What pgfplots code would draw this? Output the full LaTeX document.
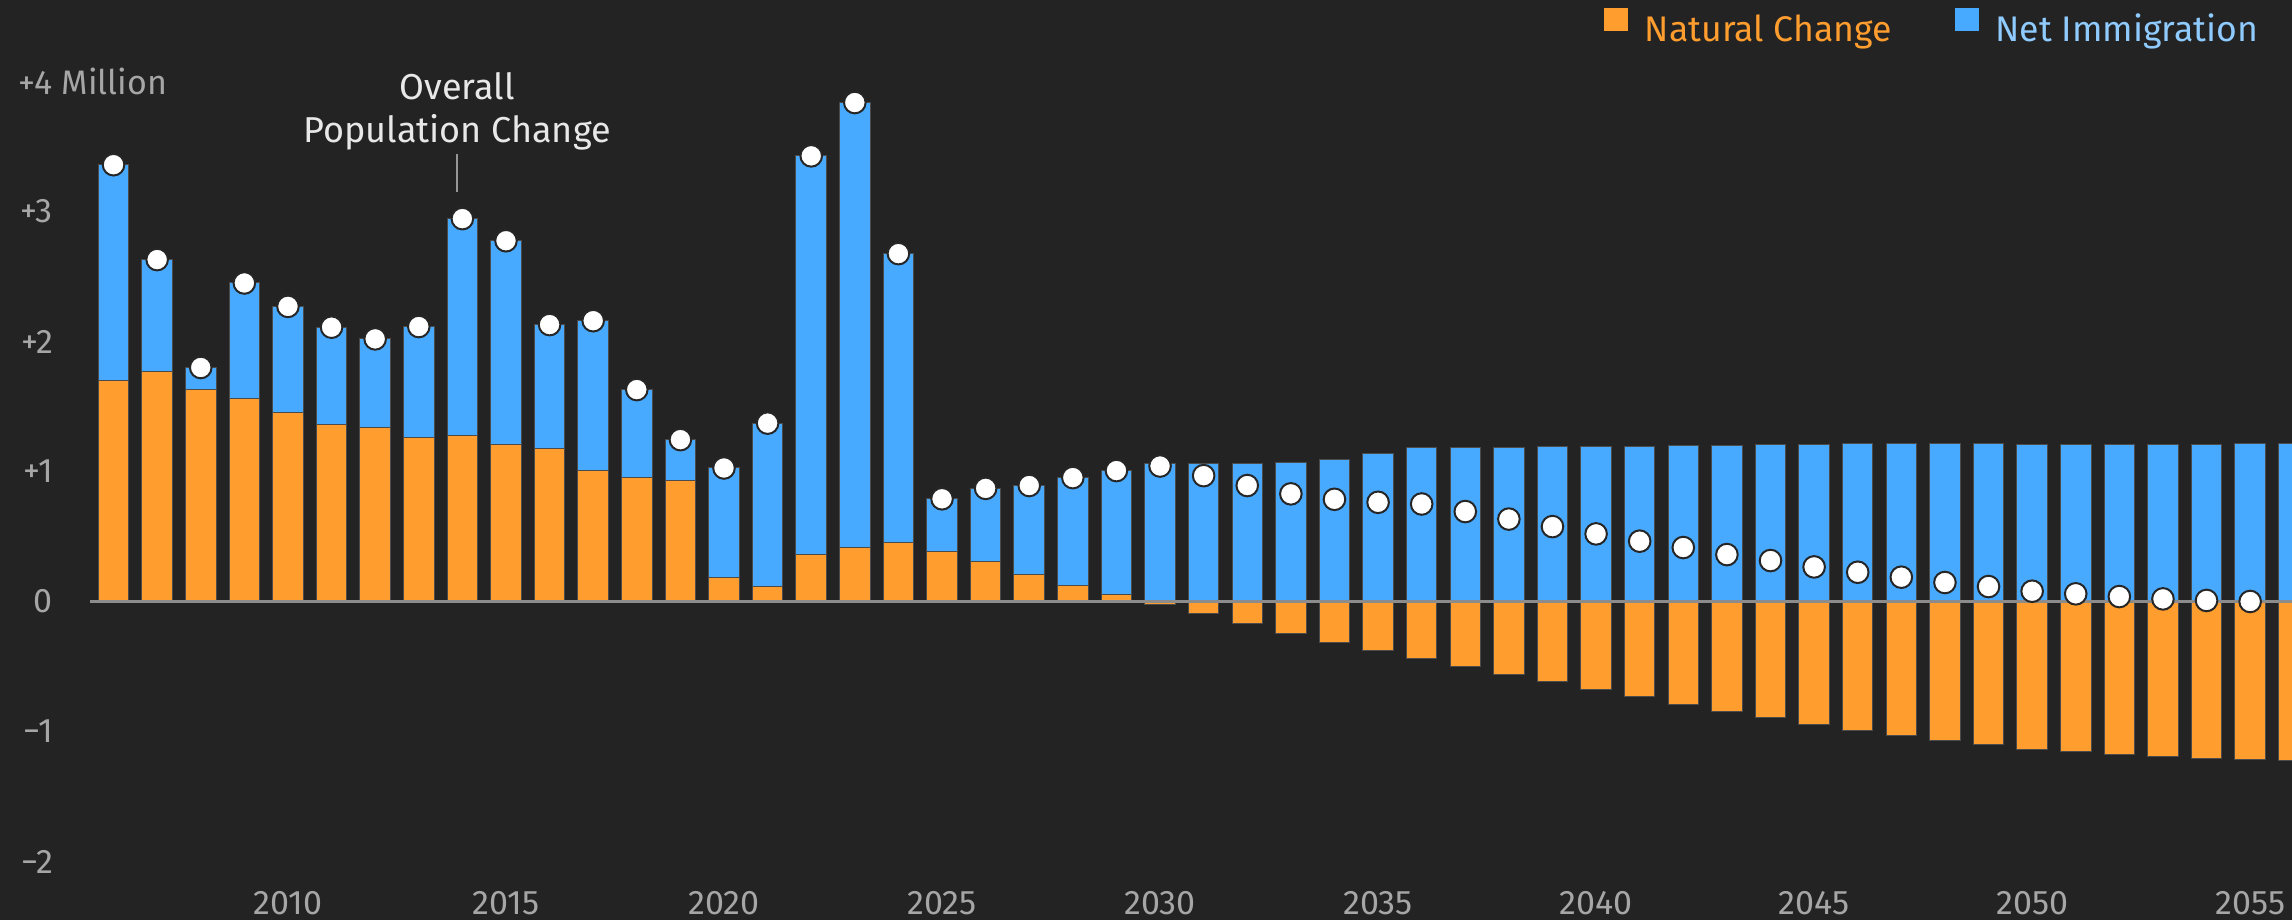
\documentclass[border=0pt]{standalone}
\usepackage{fontspec}
\setmainfont{Fira Sans}
\newfontfamily\condfont{Fira Sans}
\usepackage{pgfplots}
\usepackage{pgfplotstable}
\pgfplotsset{compat=1.18}
\definecolor{bg}{RGB}{35,35,35}
\definecolor{natc}{RGB}{255,157,46}
\definecolor{immc}{RGB}{72,170,255}
\definecolor{immtxt}{RGB}{143,203,255}
\definecolor{ticktxt}{RGB}{166,166,166}
\definecolor{zeroc}{RGB}{140,140,140}
\definecolor{edgec}{RGB}{75,75,75}
\definecolor{annotc}{RGB}{232,232,232}
\definecolor{annotline}{RGB}{150,150,150}

% year, natural change, top of the blue (net immigration) bar, overall change
\pgfplotstableread{
year nat blue total
2006 1.70 3.36 3.36
2007 1.77 2.63 2.63
2008 1.63 1.80 1.80
2009 1.56 2.45 2.45
2010 1.45 2.27 2.27
2011 1.36 2.11 2.11
2012 1.34 2.02 2.02
2013 1.265 2.115 2.115
2014 1.28 2.945 2.945
2015 1.205 2.775 2.775
2016 1.175 2.13 2.13
2017 1.01 2.16 2.16
2018 0.955 1.63 1.63
2019 0.93 1.245 1.245
2020 0.185 1.027 1.027
2021 0.117 1.372 1.372
2022 0.365 3.428 3.428
2023 0.412 3.838 3.838
2024 0.456 2.676 2.676
2025 0.387 0.79 0.79
2026 0.305 0.87 0.87
2027 0.209 0.892 0.892
2028 0.126 0.953 0.953
2029 0.052 1.007 1.007
2030 -0.02 1.064 1.042
2031 -0.095 1.064 0.968
2032 -0.172 1.059 0.892
2033 -0.243 1.069 0.828
2034 -0.313 1.096 0.786
2035 -0.374 1.137 0.763
2036 -0.438 1.186 0.75
2037 -0.50 1.187 0.692
2038 -0.561 1.187 0.634
2039 -0.617 1.189 0.576
2040 -0.676 1.191 0.52
2041 -0.733 1.194 0.464
2042 -0.789 1.199 0.415
2043 -0.843 1.202 0.361
2044 -0.894 1.204 0.315
2045 -0.943 1.207 0.266
2046 -0.989 1.212 0.225
2047 -1.033 1.212 0.187
2048 -1.071 1.212 0.146
2049 -1.102 1.214 0.115
2050 -1.135 1.209 0.079
2051 -1.156 1.209 0.059
2052 -1.179 1.209 0.038
2053 -1.194 1.209 0.02
2054 -1.209 1.21 0.008
2055 -1.217 1.212 0.0
2056 -1.225 1.212 -0.01
}\data

\begin{document}
\begin{tikzpicture}
\fill[bg] (0,0) rectangle (573pt,230pt);
\begin{axis}[
  at={(22.5pt,0pt)}, anchor=south west,
  scale only axis, width=550.5pt, height=230pt,
  xmin=2005.46, xmax=2055.96, ymin=-2.45, ymax=4.627,
  axis line style={draw=none}, major tick length=0pt,
  clip=true, clip marker paths=true,
  xtick={2010,2015,2020,2025,2030,2035,2040,2045,2050,2055},
  xticklabels={2010,2015,2020,2025,2030,2035,2040,2045,2050,2055},
  ytick={-2,-1,0,1,2,3,4},
  yticklabels={−2,−1,0,+1,+2,+3,+4\rlap{\ Million}},
  tick label style={font=\condfont\fontsize{8.5}{9.6}\selectfont, text=ticktxt, inner sep=0pt},
  yticklabel style={anchor=east, xshift=-9.1pt},
  xticklabel style={anchor=center, yshift=4.3pt},
  legend columns=2,
  legend image code/.code={\fill[#1] (0pt,0pt) rectangle (6pt,5.75pt);},
  legend style={at={(1,1)}, anchor=north east, xshift=-8.5pt, yshift=-2pt,
    draw=none, fill=none, inner sep=0pt, outer sep=0pt,
    font=\condfont\fontsize{8.9}{10}\selectfont,
    nodes={inner sep=0pt},
    /tikz/every odd column/.append style={column sep=4.25pt},
    /tikz/every even column/.append style={column sep=15.75pt}},
]
\addlegendimage{fill=natc, draw=none}
\addlegendentry{\textcolor{natc}{Natural Change}}
\addlegendimage{fill=immc, draw=none}
\addlegendentry{\textcolor{immtxt}{Net Immigration}}

\addplot[ybar, bar width=0.70, bar shift=0pt, fill=immc, draw=edgec, line width=0.25pt, forget plot]
  table[x=year, y=blue]{\data};
\addplot[ybar, bar width=0.70, bar shift=0pt, fill=natc, draw=edgec, line width=0.25pt, forget plot]
  table[x=year, y=nat]{\data};
\addplot[zeroc, line width=0.75pt, sharp plot, no marks, forget plot]
  coordinates {(2005.46,0) (2056.5,0)};
\addplot[only marks, mark=*, mark size=2.7pt, mark options={fill=white, draw=black!85, line width=0.5pt}, forget plot]
  table[x=year, y=total]{\data};

\node[anchor=south, inner sep=0pt, align=center, font=\fontsize{9}{10.75}\selectfont, text=annotc]
  at (axis cs:2013.88,3.465) {Overall\\Population Change};
\draw[annotline, line width=0.35pt] (axis cs:2013.88,3.442) -- (axis cs:2013.88,3.15);
\end{axis}
\pgfresetboundingbox
\path[use as bounding box] (0,0) rectangle (573pt,230pt);
\end{tikzpicture}
\end{document}
